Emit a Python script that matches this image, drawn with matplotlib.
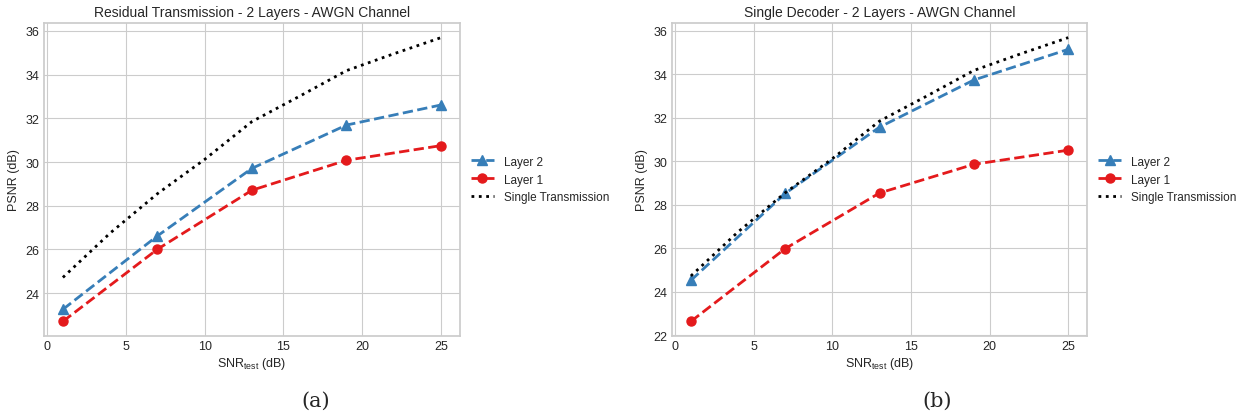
import matplotlib
matplotlib.use("Agg")
import matplotlib.pyplot as plt

# ----------------------------------
# Data
# ----------------------------------
snr = [1, 7, 13, 19, 25]

# (a) Residual transmission
res_layer2 = [23.26, 26.62, 29.71, 31.69, 32.61]
res_layer1 = [22.71, 26.01, 28.71, 30.08, 30.75]

# (b) Single decoder
dec_layer2 = [24.52, 28.52, 31.57, 33.74, 35.15]
dec_layer1 = [22.63, 25.98, 28.54, 29.86, 30.51]

# single transmission reference curve (same on both panels)
single_snr = [1, 4, 7, 10, 13, 16, 19, 22, 25]
single_psnr = [24.72, 26.75, 28.55, 30.12, 31.85, 33.0, 34.18, 34.95, 35.69]

titles = ["Residual Transmission - 2 Layers - AWGN Channel",
          "Single Decoder - 2 Layers - AWGN Channel"]
captions = ["(a)", "(b)"]

plt.style.use("seaborn-v0_8-whitegrid")
plt.rcParams['font.family'] = ['Liberation Sans', 'DejaVu Sans']
plt.rcParams['mathtext.fontset'] = 'custom'
plt.rcParams['mathtext.rm'] = 'Liberation Sans'
plt.rcParams['mathtext.it'] = 'Liberation Sans:italic'

blue = "#377eb8"
red = "#e41a1c"

fig = plt.figure(figsize=(12.39, 4.14), dpi=100)
ax_a = fig.add_axes([0.0355, 0.187, 0.3357, 0.754])
ax_b = fig.add_axes([0.5424, 0.187, 0.3350, 0.754])

panels = [(ax_a, res_layer2, res_layer1), (ax_b, dec_layer2, dec_layer1)]

for i, (ax, l2, l1) in enumerate(panels):
    ax.plot(snr, l2, linestyle='--', marker='^', color=blue, lw=2, ms=6.5, label="Layer 2")
    ax.plot(snr, l1, linestyle='--', marker='o', color=red, lw=2, ms=6.5, label="Layer 1")
    ax.plot(single_snr, single_psnr, linestyle=':', color='black', lw=2, label="Single Transmission")
    ax.set_title(titles[i], fontsize=10, pad=5)
    ax.set_xlabel(r"SNR$_{\rm test}$ (dB)", fontsize=9, labelpad=2)
    ax.set_ylabel("PSNR (dB)", fontsize=9)
    ax.tick_params(labelsize=9)
    ax.set_xticks([0, 5, 10, 15, 20, 25])
    for sp in ax.spines.values():
        sp.set_visible(True)
        sp.set_color('.8')
        sp.set_linewidth(1.25)
    ax.legend(loc='center left', bbox_to_anchor=(1.0, 0.5), fontsize=8.5, frameon=False)

fig.text(0.255, 0.018, captions[0], ha='center', fontsize=15,
         family='DejaVu Serif', math_fontfamily='cm')
fig.text(0.756, 0.018, captions[1], ha='center', fontsize=15,
         family='DejaVu Serif', math_fontfamily='cm')

fig.savefig("out.png", dpi=100)
